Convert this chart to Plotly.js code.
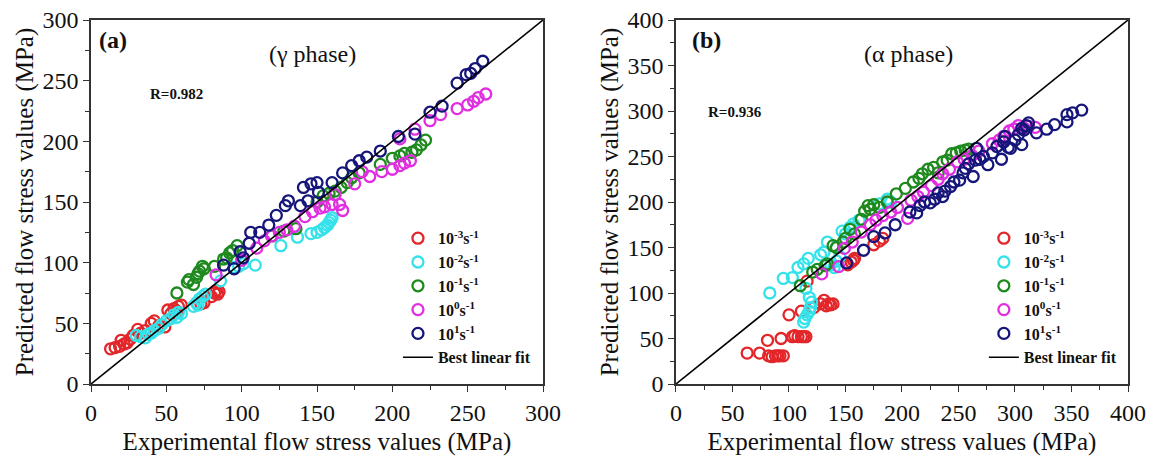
<!DOCTYPE html>
<html>
<head>
<meta charset="utf-8">
<script src="https://cdn.plot.ly/plotly-3.0.1.min.js"></script>
<style>html,body{margin:0;padding:0;background:#fff;}#chart{width:1149px;height:459px;}</style>
</head>
<body>
<div id="chart"></div>
<script>
// ---------- Panel (a): gamma phase ----------
const a_r3_x = [13,16,19,20,22,24,26,28,31,33,36,40,42,45,49,51,53,55,57,58,60,73,75,80,82,83,84,85];
const a_r3_y = [29,30,31,36,33,34,37,40,45,42,44,50,52,48,47,61,58,62,60,64,65,66,67,72,75,77,74,76];
const a_r2_x = [30,33,36,38,40,42,45,47,50,53,55,57,58,60,68,70,71,72,74,76,86,95,98,101,109,126,137,146,150,153,155,157,158,159,160];
const a_r2_y = [40,39,38,41,42,44,46,49,52,54,57,55,59,58,64,67,65,70,72,74,85,96,97,99,98,114,121,124,125,127,129,131,133,135,137];
const a_r1_x = [57,64,65,68,70,71,72,74,75,82,88,90,92,94,97,120,128,136,150,154,158,162,166,170,173,178,192,200,205,208,213,216,219,222];
const a_r1_y = [75,84,86,82,88,91,93,97,95,97,103,104,108,110,114,122,126,128,150,155,157,159,162,166,170,174,181,186,188,190,191,193,197,201];
const a_r0_x = [83,100,110,115,120,125,130,135,142,147,152,155,160,162,165,167,175,180,185,193,200,205,208,212,205,215,225,232,243,250,254,257,262];
const a_r0_y = [90,102,112,118,122,125,127,130,138,142,145,146,148,156,148,143,165,175,171,175,177,180,182,184,202,210,217,222,227,230,233,236,239];
const a_rp1_x = [88,95,99,101,105,106,112,118,123,129,131,139,141,144,146,150,151,160,167,173,178,183,192,204,215,225,233,243,249,252,255,260];
const a_rp1_y = [98,95,109,104,116,125,125,131,139,147,151,147,162,151,165,166,158,166,174,180,184,187,192,204,206,224,229,248,255,256,260,266];
const a_fit = [0, 300];

// ---------- Panel (b): alpha phase ----------
const b_r3_x = [63,74,82,85,88,90,92,95,81,93,103,105,108,111,113,115,100,111,122,128,131,133,135,137,139,116,152,155,157,158,175,180,183];
const b_r3_y = [34,34,31,30,31,31,31,31,48,50,52,53,52,52,52,52,76,80,84,88,92,86,88,87,88,113,131,134,136,138,153,157,160];
const b_r2_x = [83,95,103,108,113,117,113,114,116,118,119,120,118,115,128,131,134,137,140,142,145,147,150,154,157,162,180,187,190];
const b_r2_y = [100,116,117,128,132,138,68,72,76,80,84,90,95,105,142,145,156,131,128,135,140,168,165,172,176,180,198,203,200];
const b_r1_x = [110,121,125,132,134,139,142,148,150,154,158,164,167,170,172,175,180,187,195,203,210,215,218,223,228,232,236,240,244,248,252,256,259];
const b_r1_y = [108,123,126,130,132,152,150,156,160,170,165,181,190,196,192,197,194,200,209,215,222,226,231,236,238,232,244,246,253,254,256,257,258];
const b_r0_x = [129,144,149,156,164,172,177,183,190,196,205,208,214,219,226,232,236,242,249,255,262,268,280,286,290,295,299,303,308,312,318];
const b_r0_y = [121,129,149,156,167,175,180,185,189,194,182,202,206,211,218,225,231,236,244,247,251,256,264,268,272,278,280,284,281,283,282];
const b_rp1_x = [151,166,175,185,194,207,213,216,220,225,229,232,236,238,243,246,251,254,256,259,263,265,266,269,272,276,280,284,288,290,291,294,296,300,303,306,306,308,310,312,319,328,335,346,346,351,359];
const b_rp1_y = [133,147,162,166,175,189,188,196,200,199,203,210,206,212,217,222,224,232,237,242,228,246,259,247,250,241,254,261,247,266,272,260,259,268,274,263,281,279,284,287,276,280,285,288,296,298,301];
const b_fit = [0, 400];

const legendNames = [
  '<b>10<sup>-3</sup>s<sup>-1</sup></b>',
  '<b>10<sup>-2</sup>s<sup>-1</sup></b>',
  '<b>10<sup>-1</sup>s<sup>-1</sup></b>',
  '<b>10<sup>0</sup>s<sup>-1</sup></b>',
  '<b>10<sup>1</sup>s<sup>-1</sup></b>',
  '<b>Best linear fit</b>'
];
const colors = ['#e3262a', '#35e2ea', '#1e8a1e', '#e02ee0', '#16167a'];

const FONT = 'Liberation Serif, Times New Roman, serif';

function pts(x, y, i, xa, ya, leg) {
  return {
    type: 'scatter', mode: 'markers', x: x, y: y,
    xaxis: xa, yaxis: ya, legend: leg, name: legendNames[i],
    marker: {symbol: 'circle-open', size: 11, color: colors[i], line: {width: 2.3, color: colors[i]}},
    hoverinfo: 'x+y'
  };
}
function fit(v, xa, ya, leg) {
  return {
    type: 'scatter', mode: 'lines', x: v, y: v, xaxis: xa, yaxis: ya, legend: leg,
    name: legendNames[5],
    line: {color: '#000', width: 1.6}
  };
}

const traces = [
  pts(a_r3_x, a_r3_y, 0, 'x', 'y', 'legend'),
  pts(a_r2_x, a_r2_y, 1, 'x', 'y', 'legend'),
  pts(a_r1_x, a_r1_y, 2, 'x', 'y', 'legend'),
  pts(a_r0_x, a_r0_y, 3, 'x', 'y', 'legend'),
  pts(a_rp1_x, a_rp1_y, 4, 'x', 'y', 'legend'),
  fit(a_fit, 'x', 'y', 'legend'),
  pts(b_r3_x, b_r3_y, 0, 'x2', 'y2', 'legend2'),
  pts(b_r2_x, b_r2_y, 1, 'x2', 'y2', 'legend2'),
  pts(b_r1_x, b_r1_y, 2, 'x2', 'y2', 'legend2'),
  pts(b_r0_x, b_r0_y, 3, 'x2', 'y2', 'legend2'),
  pts(b_rp1_x, b_rp1_y, 4, 'x2', 'y2', 'legend2'),
  fit(b_fit, 'x2', 'y2', 'legend2')
];

function axis(range, dom, titleText, anchor, isY) {
  return {
    range: range, domain: dom, anchor: anchor,
    dtick: 50, tick0: 0,
    showgrid: false, zeroline: false,
    showline: true, mirror: true, linecolor: '#333', linewidth: 1.5,
    ticks: 'outside', ticklen: 6, tickwidth: 1.3, tickcolor: '#333',
    minor: {dtick: 25, ticks: 'outside', ticklen: 4, tickwidth: 1.1, tickcolor: '#333', showgrid: false},
    tickfont: {family: FONT, size: 24, color: '#111'},
    title: {text: titleText, font: {family: FONT, size: 25, color: '#111'}, standoff: isY ? 2 : 8},
    automargin: false, fixedrange: true
  };
}

const legendStyle = {
  font: {family: FONT, size: 16, color: '#111'},
  bgcolor: 'rgba(0,0,0,0)', borderwidth: 0,
  xanchor: 'left', yanchor: 'top', tracegroupgap: 0,
  itemclick: false, itemdoubleclick: false
};

const layout = {
  width: 1149, height: 459,
  margin: {l: 91, r: 21, t: 20, b: 75},
  paper_bgcolor: '#fff', plot_bgcolor: '#fff',
  font: {family: FONT},
  showlegend: true,
  xaxis: axis([0, 300], [0, 0.4359], 'Experimental flow stress values (MPa)', 'y', false),
  yaxis: axis([0, 300], [0, 1], 'Predicted flow stress values (MPa)', 'x', true),
  xaxis2: axis([0, 400], [0.5641, 1], 'Experimental flow stress values (MPa)', 'y2', false),
  yaxis2: axis([0, 400], [0, 1], 'Predicted flow stress values (MPa)', 'x2', true),
  legend: Object.assign({x: 0.296, y: 0.447}, legendStyle),
  legend2: Object.assign({x: 0.861, y: 0.447}, legendStyle),
  annotations: [
    {xref: 'paper', yref: 'paper', x: 0.006, y: 0.945, xanchor: 'left', yanchor: 'middle', showarrow: false,
     text: '<b>(a)</b>', font: {family: FONT, size: 24, color: '#111'}},
    {xref: 'paper', yref: 'paper', x: 0.214, y: 0.906, xanchor: 'center', yanchor: 'middle', showarrow: false,
     text: '(γ phase)', font: {family: FONT, size: 24, color: '#111'}},
    {xref: 'paper', yref: 'paper', x: 0.055, y: 0.796, xanchor: 'left', yanchor: 'middle', showarrow: false,
     text: '<b>R=0.982</b>', font: {family: FONT, size: 15, color: '#111'}},
    {xref: 'paper', yref: 'paper', x: 0.578, y: 0.945, xanchor: 'left', yanchor: 'middle', showarrow: false,
     text: '<b>(b)</b>', font: {family: FONT, size: 24, color: '#111'}},
    {xref: 'paper', yref: 'paper', x: 0.788, y: 0.906, xanchor: 'center', yanchor: 'middle', showarrow: false,
     text: '(α phase)', font: {family: FONT, size: 24, color: '#111'}},
    {xref: 'paper', yref: 'paper', x: 0.593, y: 0.748, xanchor: 'left', yanchor: 'middle', showarrow: false,
     text: '<b>R=0.936</b>', font: {family: FONT, size: 15, color: '#111'}}
  ]
};

Plotly.newPlot('chart', traces, layout, {displayModeBar: false});
</script>
</body>
</html>
